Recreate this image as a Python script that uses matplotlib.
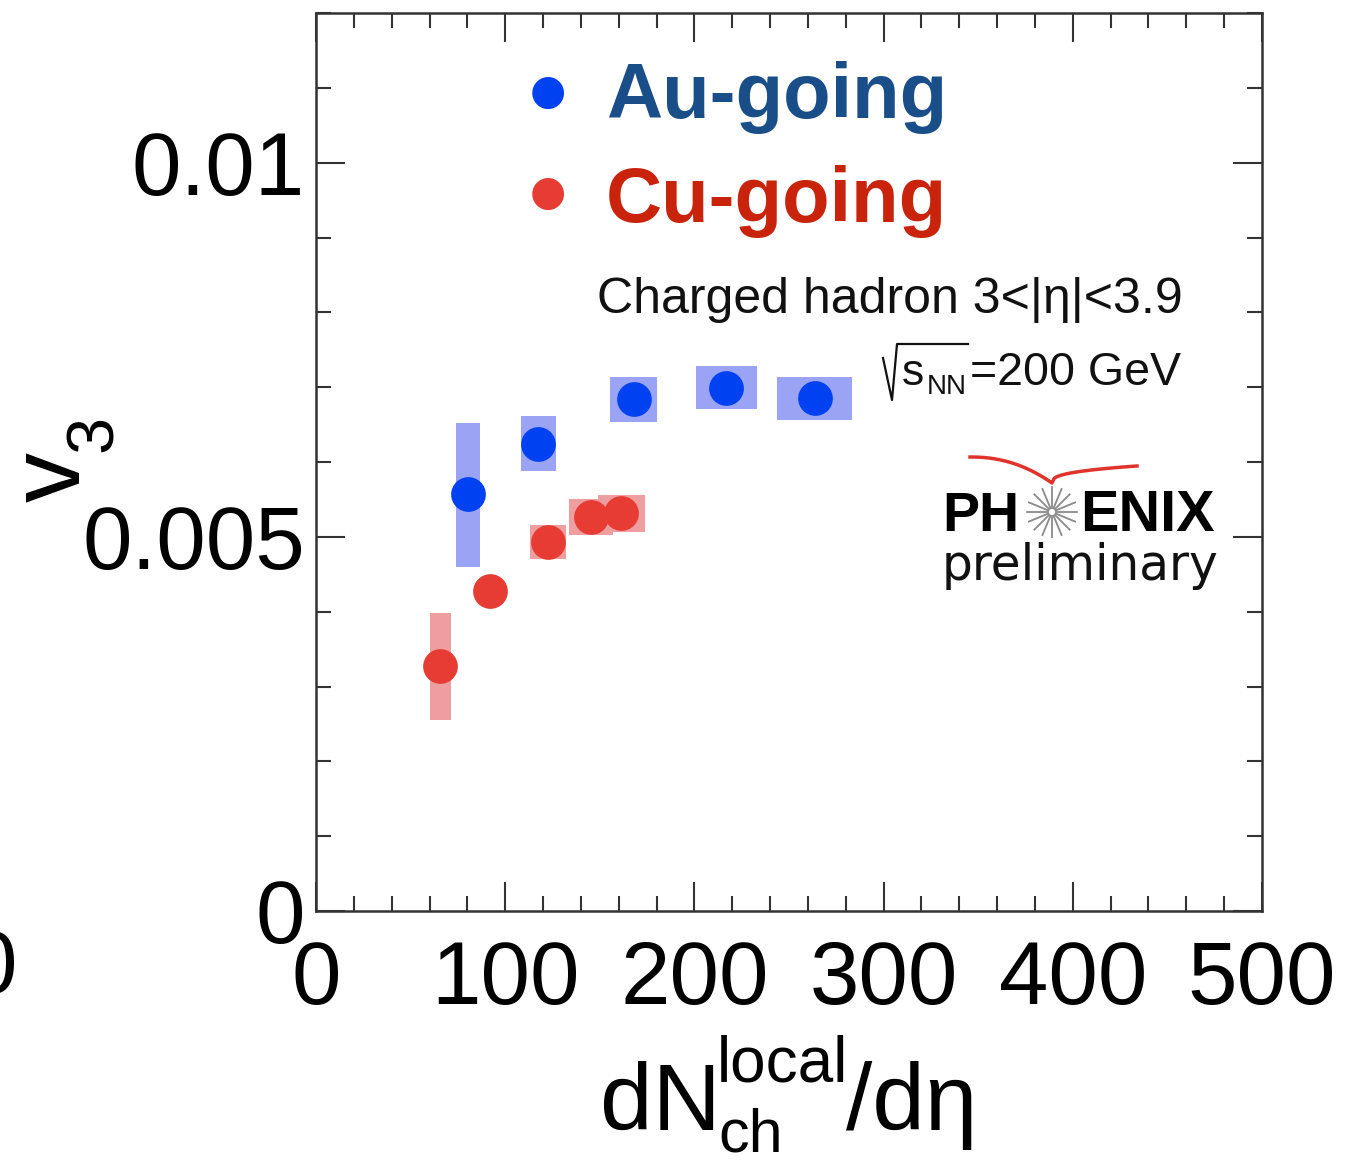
#!/usr/bin/env python3
"""
plot.py - PHENIX preliminary v3 vs dN_ch^local/deta (Au-going / Cu-going)
"""

import numpy as np
import matplotlib
matplotlib.use("Agg")
import matplotlib.pyplot as plt
from matplotlib.patches import Rectangle
from matplotlib.ticker import MultipleLocator

plt.rcParams['font.family'] = ['Liberation Sans', 'DejaVu Sans']
plt.rcParams['mathtext.fontset'] = 'custom'
plt.rcParams['mathtext.rm'] = 'Liberation Sans'
plt.rcParams['mathtext.it'] = 'Liberation Sans'
plt.rcParams['mathtext.default'] = 'regular'

# Au-going: dN/deta, v3, box half-width (x), syst low/high (y)
au_x = [80.3, 117.6, 167.9, 216.9, 263.5]
au_v3 = [0.00557, 0.00624, 0.00684, 0.00699, 0.00686]
au_dx = [6.5, 9.1, 12.5, 16.3, 19.7]
au_lo = [0.00460, 0.00588, 0.00654, 0.00671, 0.00656]
au_hi = [0.00652, 0.00662, 0.00714, 0.00728, 0.00714]

# Cu-going
cu_x = [65.6, 92.1, 122.6, 145.3, 161.4]
cu_v3 = [0.00328, 0.00427, 0.00493, 0.00527, 0.00532]
cu_dx = [5.5, 7.0, 9.6, 11.6, 12.3]
cu_lo = [0.00255, 0.00420, 0.00471, 0.00503, 0.00507]
cu_hi = [0.00398, 0.00434, 0.00516, 0.00550, 0.00556]

x_ticks = [0, 100, 200, 300, 400, 500]
y_ticks = [0, 0.005, 0.01]
y_tick_labels = ['0', '0.005', '0.01']

BLUE = '#0041F2'
BLUE_BOX = '#9AA3F4'
RED = '#E63C33'
RED_BOX = '#EE9E9E'
AXIS_C = '#333333'

W, H = 1364, 1166


def fx(px):
    return px / W


def fy(py):
    return 1 - py / H


def draw_boxes(ax, xs, dxs, lo, hi, color):
    for x, dx, l, h in zip(xs, dxs, lo, hi):
        ax.add_patch(Rectangle((x - dx, l), 2 * dx, h - l, facecolor=color,
                               edgecolor='none', zorder=2))


def fig_line(fig, xs, ys, **kw):
    fig.add_artist(plt.Line2D(fx(np.asarray(xs, float)), fy(np.asarray(ys, float)), **kw))


def main():
    fig = plt.figure(figsize=(W / 100, H / 100), dpi=100)
    ax = fig.add_axes([fx(316), fy(911), fx(1262) - fx(316), fy(13) - fy(911)])

    draw_boxes(ax, au_x, au_dx, au_lo, au_hi, BLUE_BOX)
    draw_boxes(ax, cu_x, cu_dx, cu_lo, cu_hi, RED_BOX)
    ax.plot(au_x, au_v3, 'o', color=BLUE, ms=25, mec='none', zorder=3)
    ax.plot(cu_x, cu_v3, 'o', color=RED, ms=25, mec='none', zorder=3)

    ax.set_xlim(0, 500)
    ax.set_ylim(0, 0.012)
    ax.set_xticks(x_ticks)
    ax.set_xticklabels([str(v) for v in x_ticks])
    ax.set_yticks(y_ticks)
    ax.set_yticklabels(y_tick_labels)
    ax.xaxis.set_minor_locator(MultipleLocator(20))
    ax.yaxis.set_minor_locator(MultipleLocator(0.001))
    ax.tick_params(which='both', direction='in', top=True, right=True,
                   color=AXIS_C, width=1.5)
    ax.tick_params(which='major', length=21, labelsize=64)
    ax.tick_params(which='minor', length=11)
    ax.tick_params(axis='x', which='major', pad=20)
    ax.tick_params(axis='y', which='major', pad=8)
    for s in ax.spines.values():
        s.set_color(AXIS_C)
        s.set_linewidth(1.8)

    # y axis title: v with subscript 3, rotated
    fig.text(fx(80), fy(502), 'v', rotation=90, rotation_mode='anchor',
             fontsize=72, ha='left', va='baseline')
    fig.text(fx(112), fy(452), '3', rotation=90, rotation_mode='anchor',
             fontsize=48, ha='left', va='baseline')

    # x axis title: dN_ch^local / d eta
    fig.text(fx(600), fy(1130), 'dN', fontsize=68, ha='left', va='baseline')
    fig.text(fx(717), fy(1082), 'local', fontsize=46, ha='left', va='baseline')
    fig.text(fx(718), fy(1152), 'ch', fontsize=44, ha='left', va='baseline')
    fig.text(fx(846), fy(1130), '/dη', fontsize=68, ha='left', va='baseline')

    # legend
    fig.text(fx(548), fy(92), '●', color=BLUE, fontsize=30, ha='center',
             va='center', family='DejaVu Sans')
    fig.text(fx(548), fy(193), '●', color=RED, fontsize=30, ha='center',
             va='center', family='DejaVu Sans')
    fig.text(fx(606), fy(118), 'Au-going', color='#1A4E88', fontsize=56,
             fontweight='bold', ha='left', va='baseline')
    fig.text(fx(606), fy(222), 'Cu-going', color='#C9230C', fontsize=56,
             fontweight='bold', ha='left', va='baseline')

    fig.text(fx(1183), fy(313), 'Charged hadron 3<|η|<3.9', fontsize=36,
             ha='right', va='baseline', color='#111111')

    # sqrt(s_NN)=200 GeV
    fig_line(fig, [883, 892, 897, 968], [358, 400, 344, 344],
             color='#111111', lw=1.6)
    fig.text(fx(902), fy(385), 's', fontsize=32, ha='left', va='baseline',
             color='#111111')
    fig.text(fx(927), fy(394), 'NN', fontsize=20, ha='left', va='baseline',
             color='#111111')
    fig.text(fx(1181), fy(385), '=200 GeV', fontsize=33.5, ha='right',
             va='baseline', color='#111111')

    # PHENIX preliminary logo
    fig.text(fx(942), fy(531), 'PH', fontsize=40, fontweight='bold',
             ha='left', va='baseline')
    fig.text(fx(1080), fy(531), 'ENIX', fontsize=41.5, fontweight='bold',
             ha='left', va='baseline')
    fig.text(fx(942), fy(580), 'preliminary', fontsize=35,
             ha='left', va='baseline', color='#111111', family='DejaVu Sans')
    cx, cy = 1052, 512
    for a in np.linspace(0, 2 * np.pi, 17)[:-1]:
        fig_line(fig, [cx + 4 * np.cos(a), cx + 25 * np.cos(a)],
                 [cy + 4 * np.sin(a), cy + 25 * np.sin(a)],
                 color='#8a8a8a', lw=1.3)
    t = np.linspace(0, 1, 40)
    lx = 970 + (1052 - 970) * t
    ly = 457 + (483 - 457) * t ** 2.2
    rx = 1052 + (1137 - 1052) * t
    ry = 483 - (483 - 466) * t ** 0.35
    fig_line(fig, np.concatenate([lx, rx]), np.concatenate([ly, ry]),
             color='#E0332C', lw=2.5)

    # fragment of neighbouring panel, cut by the left edge as in the source
    fig.text(fx(-8), fy(970), '0', fontsize=64, ha='center', va='center')

    fig.savefig('out.png', dpi=100)
    plt.close(fig)


if __name__ == "__main__":
    main()
